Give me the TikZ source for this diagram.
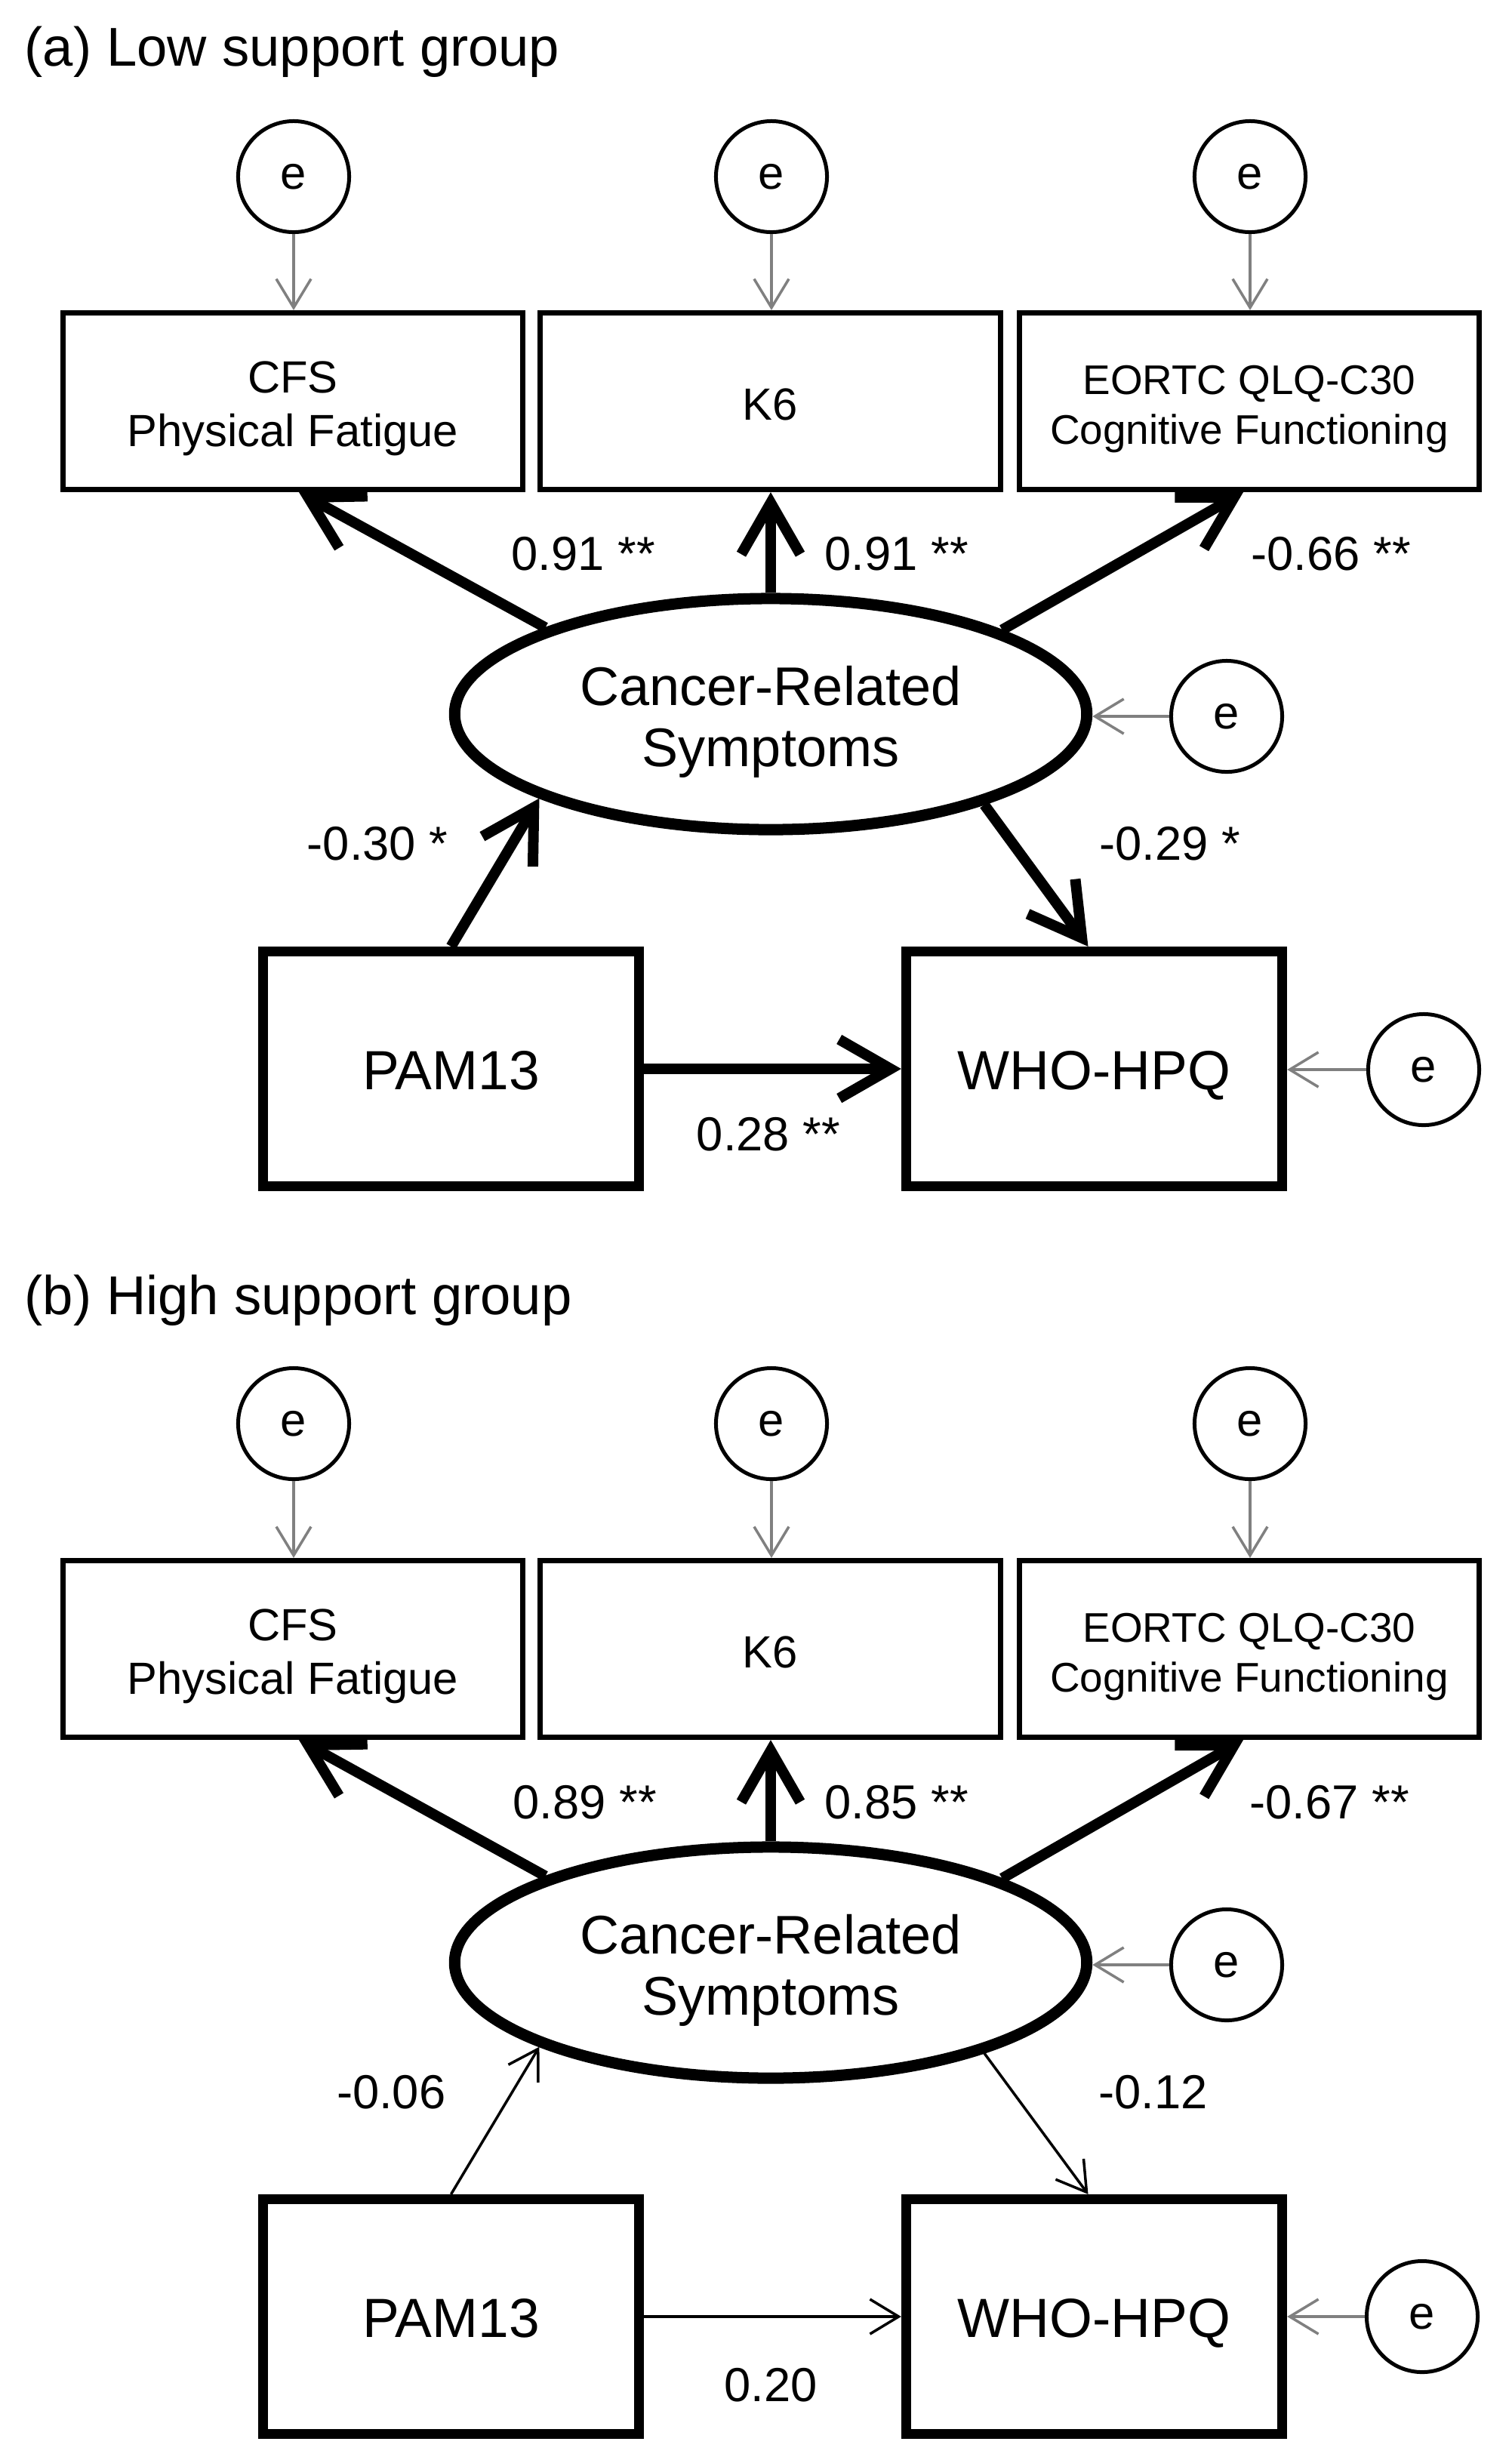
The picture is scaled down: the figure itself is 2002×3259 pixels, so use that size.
\documentclass[tikz,border=0pt]{standalone}
\usepackage{fontspec}
\setmainfont{Liberation Sans}
\usetikzlibrary{arrows.meta,shapes.geometric,calc}
\newcommand{\twolines}[2]{\begin{tabular}[t]{@{}c@{}}#1\\#2\end{tabular}}
\tikzset{
  errc/.style={circle, draw, line width=0.05cm, minimum size=1.47cm, inner sep=0pt, font=\fontsize{17.5}{20}\selectfont},
  indbox/.style={rectangle, draw, line width=0.07cm, minimum width=6.09cm, minimum height=2.34cm, inner sep=0pt, font=\fontsize{17}{20.2}\selectfont, text height=0.5cm, text depth=0.73cm},
  onebox/.style={indbox, text height=0.49cm, text depth=0cm},
  eortcfont/.style={font=\fontsize{15.6}{18.8}\selectfont, text height=0.5cm, text depth=0.69cm},
  latent/.style={ellipse, draw, line width=0.15cm, minimum width=8.37cm, minimum height=3.06cm, inner sep=0pt, font=\fontsize{20.5}{23.3}\selectfont, text height=0.55cm, text depth=0.79cm},
  obsbox/.style={rectangle, draw, line width=0.13cm, minimum width=4.98cm, minimum height=3.11cm, inner sep=0pt, font=\fontsize{20.8}{24}\selectfont, text height=0.54cm, text depth=0cm},
  coef/.style={inner sep=0pt, font=\fontsize{18}{21}\selectfont},
  ttl/.style={inner sep=0pt, anchor=base west, font=\fontsize{20.6}{24}\selectfont},
  erarr/.style={draw=black!50, line width=0.035cm, -{Straight Barb[length=0.38cm, width=0.46cm]}},
  thickarr/.style={line width=0.14cm, -{Straight Barb[length=0.68cm, width=0.78cm]}},
  thinarr/.style={line width=0.035cm, -{Straight Barb[length=0.38cm, width=0.46cm]}},
}
\begin{document}
\begin{tikzpicture}[x=0.01cm, y=-0.01cm]
\useasboundingbox (0,0) rectangle (2002,3259);
\fill[white] (0,0) rectangle (2002,3259);

% ---------------- Panel (a) ----------------
\node[ttl] (a-t) at (32,87) {(a) Low support group};
\node[errc] (a-e1) at (389,234) {e};
\node[errc] (a-e2) at (1022,234) {e};
\node[errc] (a-e3) at (1656,234) {e};
\node[indbox] (a-m1) at (388,531.5) {\twolines{CFS}{Physical Fatigue}};
\node[onebox] (a-m2) at (1020.5,531.5) {K6};
\node[indbox, eortcfont] (a-m3) at (1655,531.5) {\twolines{EORTC QLQ-C30}{Cognitive Functioning}};
\node[latent] (a-lat) at (1021,946) {\twolines{Cancer-Related}{Symptoms}};
\node[errc] (a-e4) at (1625,949) {e};
\node[obsbox] (a-pam) at (597.5,1416) {PAM13};
\node[obsbox] (a-who) at (1449.5,1416) {WHO-HPQ};
\node[errc] (a-e5) at (1886,1417) {e};

\draw[erarr] (a-e1.south) -- (a-e1.south |- a-m1.north);
\draw[erarr] (a-e2.south) -- (a-e2.south |- a-m2.north);
\draw[erarr] (a-e3.south) -- (a-e3.south |- a-m3.north);
\draw[erarr] (a-e4.west) -- (a-e4.west -| a-lat.east);
\draw[erarr] (a-e5.west) -- (a-e5.west -| a-who.east);

\draw[thickarr] (a-lat.159.5) -- ($(a-m1.south)+(8,0)$);
\draw[thickarr] (a-lat.north) -- (a-lat.north |- a-m2.south);
\draw[thickarr] (a-lat.20.5) -- ($(a-m3.south)+(-8,0)$);
\draw[thickarr] (a-pam.north) -- (a-lat.200);
\draw[thickarr] (a-lat.337.5) -- ($(a-who.north)+(-8,0)$);
\draw[thickarr] (a-pam.east) -- (a-who.west);

\node[coef, anchor=base west] (a-l1) at (677,755) {0.91 **};
\node[coef, anchor=base west] (a-l2) at (1092,755) {0.91 **};
\node[coef, anchor=base west] (a-l3) at (1657,755) {-0.66 **};
\node[coef, anchor=base east] (a-l4) at (594,1139) {-0.30 *};
\node[coef, anchor=base west] (a-l5) at (1456,1139) {-0.29 *};
\node[coef, anchor=base] (a-l6) at (1018,1524) {0.28 **};

% ---------------- Panel (b) ----------------
\begin{scope}[shift={(0,1654)}]
\node[ttl] (b-t) at (32,87) {(b) High support group};
\node[errc] (b-e1) at (389,232) {e};
\node[errc] (b-e2) at (1022,232) {e};
\node[errc] (b-e3) at (1656,232) {e};
\node[indbox] (b-m1) at (388,530.5) {\twolines{CFS}{Physical Fatigue}};
\node[onebox] (b-m2) at (1020.5,530.5) {K6};
\node[indbox, eortcfont] (b-m3) at (1655,530.5) {\twolines{EORTC QLQ-C30}{Cognitive Functioning}};
\node[latent] (b-lat) at (1021,946) {\twolines{Cancer-Related}{Symptoms}};
\node[errc] (b-e4) at (1625,949) {e};
\node[obsbox] (b-pam) at (597.5,1415) {PAM13};
\node[obsbox] (b-who) at (1449.5,1415) {WHO-HPQ};
\node[errc] (b-e5) at (1884,1415) {e};

\draw[erarr] (b-e1.south) -- (b-e1.south |- b-m1.north);
\draw[erarr] (b-e2.south) -- (b-e2.south |- b-m2.north);
\draw[erarr] (b-e3.south) -- (b-e3.south |- b-m3.north);
\draw[erarr] (b-e4.west) -- (b-e4.west -| b-lat.east);
\draw[erarr] (b-e5.west) -- (b-e5.west -| b-who.east);

\draw[thickarr] (b-lat.159.5) -- ($(b-m1.south)+(8,0)$);
\draw[thickarr] (b-lat.north) -- (b-lat.north |- b-m2.south);
\draw[thickarr] (b-lat.20.5) -- ($(b-m3.south)+(-8,0)$);
\draw[thinarr] (b-pam.north) -- (b-lat.200);
\draw[thinarr] (b-lat.337.5) -- ($(b-who.north)+(-8,0)$);
\draw[thinarr] (b-pam.east) -- (b-who.west);

\node[coef, anchor=base west] (b-l1) at (679,755) {0.89 **};
\node[coef, anchor=base west] (b-l2) at (1092,755) {0.85 **};
\node[coef, anchor=base west] (b-l3) at (1655,755) {-0.67 **};
\node[coef, anchor=base east] (b-l4) at (591,1139) {-0.06};
\node[coef, anchor=base west] (b-l5) at (1455,1139) {-0.12};
\node[coef, anchor=base] (b-l6) at (1021,1527) {0.20};
\end{scope}
\end{tikzpicture}
\end{document}
